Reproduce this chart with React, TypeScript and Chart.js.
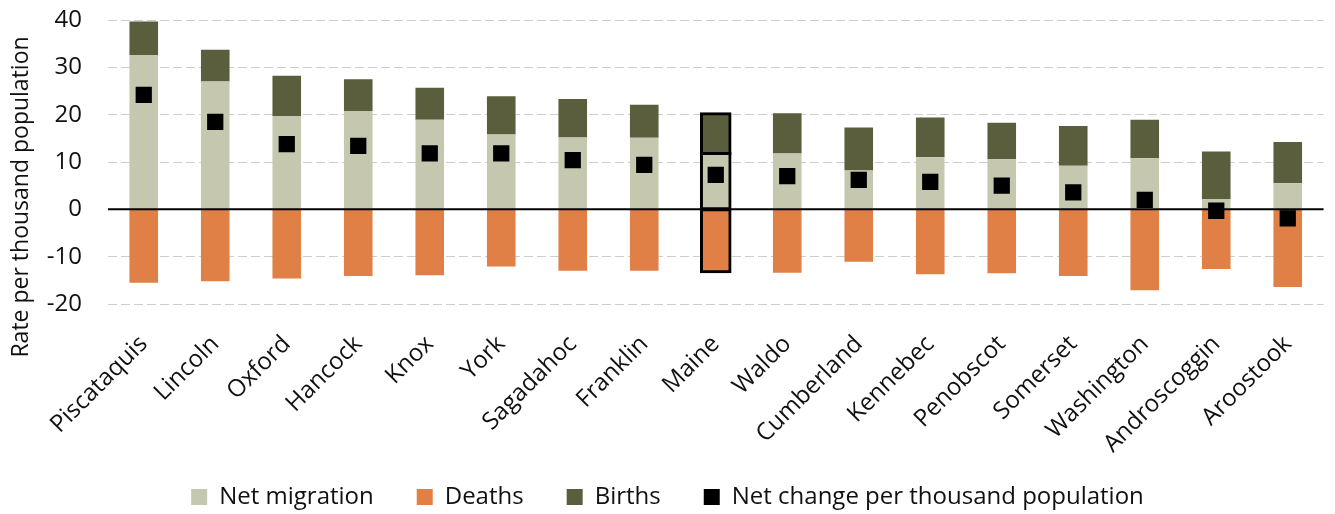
import React, { useEffect, useRef } from "react";
import { Chart, registerables } from "chart.js";

Chart.register(...registerables);

// County names, ordered by net change
const counties = [
  "Piscataquis", "Lincoln", "Oxford", "Hancock", "Knox", "York", "Sagadahoc",
  "Franklin", "Maine", "Waldo", "Cumberland", "Kennebec", "Penobscot",
  "Somerset", "Washington", "Androscoggin", "Aroostook",
];

// Rates per thousand population
const netMigration = [32.6, 27.0, 19.7, 20.8, 18.9, 15.8, 15.2, 15.1, 11.8, 11.8, 8.2, 11.0, 10.6, 9.2, 10.8, 2.2, 5.5];
const deaths = [-15.5, -15.2, -14.6, -14.1, -13.9, -12.1, -13.0, -13.0, -13.2, -13.4, -11.1, -13.7, -13.5, -14.1, -17.1, -12.6, -16.4];
const births = [7.1, 6.7, 8.5, 6.7, 6.8, 8.1, 8.1, 7.0, 8.4, 8.5, 9.1, 8.4, 7.7, 8.4, 8.1, 10.0, 8.7];
const netChange = [24.2, 18.5, 13.8, 13.4, 11.8, 11.8, 10.4, 9.4, 7.3, 7.0, 6.2, 5.8, 5.0, 3.6, 2.0, -0.3, -1.9];

const yTicks = [-20, -10, 0, 10, 20, 30, 40];

const FONT = "'Open Sans'";
const SIZE = 24;
const TEXT = "#111";
const stateIndex = counties.indexOf("Maine");

const outline = (ctx: any) => (ctx.dataIndex === stateIndex ? 3 : 0);
const grow = (ctx: any) => (ctx.dataIndex === stateIndex ? 1.5 : "auto");

// Solid zero baseline, drawn above the bars but beneath the markers
const zeroLine = {
  id: "zeroLine",
  beforeDatasetDraw(chart: any, args: any) {
    if (args.index !== 3) return;
    const { ctx, chartArea, scales } = chart;
    const y = scales.y.getPixelForValue(0);
    ctx.save();
    ctx.strokeStyle = "#000";
    ctx.lineWidth = 2;
    ctx.beginPath();
    ctx.moveTo(chartArea.left, y);
    ctx.lineTo(chartArea.right, y);
    ctx.stroke();
    ctx.restore();
  },
};

// Let the slanted category labels run down towards the legend without clipping
const labelRoom = {
  id: "labelRoom",
  afterLayout(chart: any) {
    chart.scales.x.bottom += 16;
  },
};

// Vertical axis title, centred over the plot and its category labels
const axisTitle = {
  id: "axisTitle",
  afterDraw(chart: any) {
    const { ctx, chartArea } = chart;
    const cy = (chartArea.top + chartArea.bottom) / 2 + 35;
    ctx.save();
    ctx.translate(21, cy);
    ctx.rotate(-Math.PI / 2);
    ctx.font = `23px ${FONT}`;
    ctx.fillStyle = TEXT;
    ctx.textAlign = "center";
    ctx.textBaseline = "middle";
    ctx.fillText("Rate per thousand population", 0, 0);
    ctx.restore();
  },
};

export default function App() {
  const canvasRef = useRef<HTMLCanvasElement | null>(null);

  useEffect(() => {
    if (!canvasRef.current) return;
    const chart = new Chart(canvasRef.current, {
      type: "bar",
      data: {
        labels: counties,
        datasets: [
          {
            label: "Net migration",
            data: netMigration,
            backgroundColor: "#c5c8ae",
            borderColor: "#000",
            borderWidth: outline,
            inflateAmount: grow,
            borderSkipped: false,
            stack: "rates",
            order: 1,
          },
          {
            label: "Deaths",
            data: deaths,
            backgroundColor: "#e07f46",
            borderColor: "#000",
            borderWidth: outline,
            inflateAmount: grow,
            borderSkipped: false,
            stack: "rates",
            order: 1,
          },
          {
            label: "Births",
            data: births,
            backgroundColor: "#5b5e3d",
            borderColor: "#000",
            borderWidth: outline,
            inflateAmount: grow,
            borderSkipped: false,
            stack: "rates",
            order: 1,
          },
          {
            type: "line",
            label: "Net change per thousand population",
            data: netChange,
            showLine: false,
            pointStyle: "rect",
            pointRadius: 11.5,
            pointHoverRadius: 11.5,
            pointBackgroundColor: "#000",
            pointBorderColor: "#000",
            backgroundColor: "#000",
            borderColor: "#000",
            borderWidth: 0,
            stack: "net",
            order: 0,
          } as any,
        ],
      },
      options: {
        animation: false,
        responsive: true,
        maintainAspectRatio: false,
        layout: { padding: { top: 20, right: 0, left: 0, bottom: -5 } },
        datasets: {
          bar: { barPercentage: 0.4, categoryPercentage: 1 },
        },
        plugins: {
          tooltip: { enabled: false },
          legend: {
            position: "bottom",
            labels: {
              font: { family: FONT, size: SIZE },
              color: TEXT,
              boxWidth: 16,
              boxHeight: 16,
              padding: 43,
              generateLabels: (chart: any) =>
                chart.data.datasets.map((ds: any, i: number) => ({
                  text: ds.label,
                  fillStyle: ds.type === "line" ? "#000" : ds.backgroundColor,
                  strokeStyle: "transparent",
                  lineWidth: 0,
                  hidden: false,
                  datasetIndex: i,
                  fontColor: TEXT,
                })),
            },
          },
        },
        scales: {
          x: {
            stacked: true,
            grid: { display: false },
            border: { display: false },
            ticks: {
              font: { family: FONT, size: SIZE },
              color: TEXT,
              maxRotation: 45,
              minRotation: 45,
              autoSkip: false,
              padding: 18,
            },
            afterFit: (scale: any) => {
              scale.height = 138;
            },
          },
          y: {
            stacked: true,
            min: -20,
            max: 40,
            afterBuildTicks: (scale: any) => {
              scale.ticks = yTicks.map((v) => ({ value: v }));
            },
            grid: {
              color: "#cdcdcd",
              lineWidth: 1,
              drawTicks: true,
              tickLength: 24,
              tickColor: "transparent",
            },
            border: { display: false, dash: [9, 4] },
            ticks: {
              font: { family: FONT, size: SIZE },
              color: TEXT,
              padding: 2,
            },
            afterFit: (scale: any) => {
              scale.width = 108;
            },
          },
        },
      },
      plugins: [zeroLine, labelRoom, axisTitle],
    });
    return () => chart.destroy();
  }, []);

  return (
    <div style={{ position: "absolute", left: 0, top: 0, width: 1335, height: 514, background: "#fff" }}>
      <canvas ref={canvasRef} />
    </div>
  );
}
